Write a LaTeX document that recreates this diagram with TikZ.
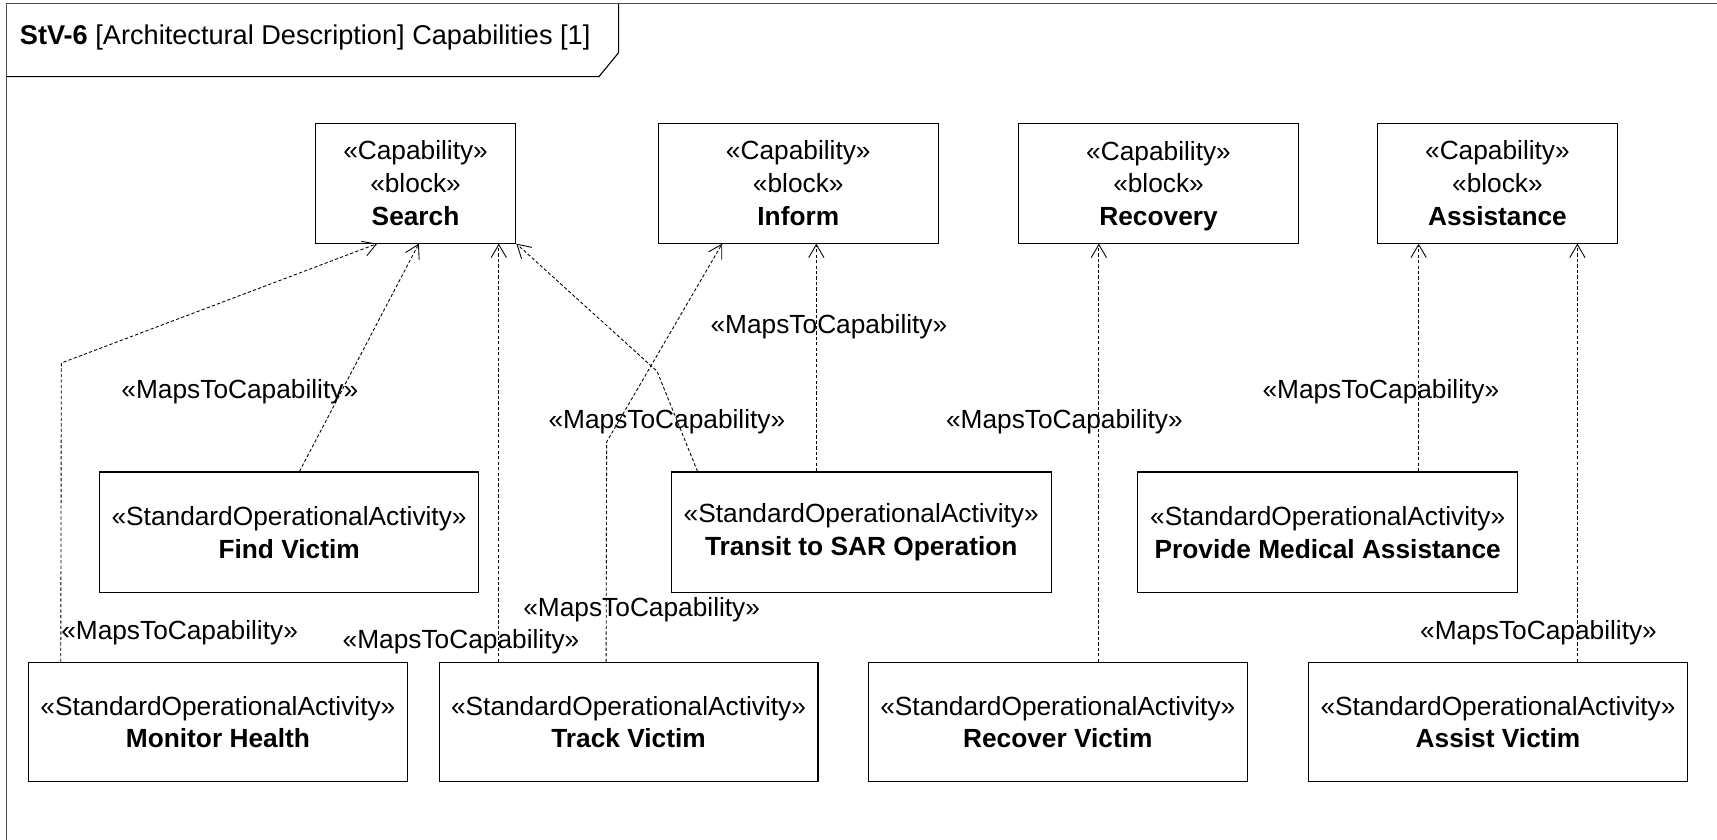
\documentclass[tikz,border=0pt]{standalone}
\usepackage{fontspec}
\setmainfont{Liberation Sans}
\usetikzlibrary{arrows.meta}
\begin{document}
\begin{tikzpicture}[x=1pt,y=-1pt,
  font=\fontsize{24}{30}\selectfont,
  box/.style={draw=black,line width=1pt,rectangle,inner sep=0pt,align=center},
  capbox/.style={box,minimum height=109pt},
  actbox/.style={box,minimum width=346pt,minimum height=110pt},
  dep/.style={draw=black,line width=0.8pt,dash pattern=on 3pt off 2pt,
    -{Straight Barb[length=12pt,width=14pt,line width=0.8pt]}},
  lbl/.style={inner sep=0pt,anchor=center}]
\useasboundingbox (0,0) rectangle (1568,767);

% diagram frame and its name tab
\draw[line width=1pt,draw=black!70] (1575,3.5) -- (6,3.5) -- (6,775);
\draw[line width=1pt] (6,70) -- (547,70) -- (565,48) -- (565,3.5);
\node[anchor=west,inner sep=0pt,font=\fontsize{24.8}{30}\selectfont] (title) at (18,34)
  {\textbf{StV-6} [Architectural Description] Capabilities [1]};

% capabilities (the name line is given no depth so all names sit on one baseline)
\node[capbox,minimum width=183pt] (srch) at (379.5,167.5) {«Capability»\\«block»\\\textbf{Search}};
\node[capbox,minimum width=256pt] (inf) at (729,167.5) {«Capability»\\«block»\\\textbf{Inform}};
\node[capbox,minimum width=256pt] (rec) at (1058,167.5) {«Capability»\\«block»\\\raisebox{0pt}[\height][0pt]{\textbf{Recovery}}};
\node[capbox,minimum width=219pt] (asst) at (1367.5,167.5) {«Capability»\\«block»\\\textbf{Assistance}};

% operational activities
\node[actbox] (find) at (264,486) {«StandardOperationalActivity»\\\textbf{Find Victim}};
\node[actbox,minimum width=347pt] (trn) at (786.5,486) {«StandardOperationalActivity»\\\textbf{Transit to SAR Operation}};
\node[actbox,minimum width=347pt] (prov) at (1212.5,486) {«StandardOperationalActivity»\\\textbf{Provide Medical Assistance}};
\node[actbox,minimum height=109pt] (mon) at (199,659.5) {«StandardOperationalActivity»\\\textbf{Monitor Health}};
\node[actbox,minimum height=109pt] (trk) at (574,659.5) {«StandardOperationalActivity»\\\textbf{Track Victim}};
\node[actbox,minimum height=109pt] (rcv) at (966,659.5) {«StandardOperationalActivity»\\\textbf{Recover Victim}};
\node[actbox,minimum height=109pt] (asv) at (1368,659.5) {«StandardOperationalActivity»\\\textbf{Assist Victim}};

% bend points
\coordinate (kmon) at (56,331.5);
\coordinate (ktrk) at (554,403.6);
\coordinate (ktrn) at (600,339);

% MapsToCapability dependencies
\draw[dep] ([xshift=30pt]mon.north west) -- (kmon) -- ([xshift=57pt]srch.south west);
\draw[dep] ([xshift=183pt]find.north west) -- ([xshift=95pt]srch.south west);
\draw[dep] ([xshift=55pt]trk.north west) -- ([xshift=168pt]srch.south west);
\draw[dep] ([xshift=153pt]trk.north west) -- (ktrk) -- ([xshift=59pt]inf.south west);
\draw[dep] ([xshift=24.5pt]trn.north west) -- (ktrn) -- (srch.south east);
\draw[dep] ([xshift=133pt]trn.north west) -- ([xshift=145pt]inf.south west);
\draw[dep] ([xshift=211pt]rcv.north west) -- ([xshift=74pt]rec.south west);
\draw[dep] ([xshift=257pt]prov.north west) -- ([xshift=38pt]asst.south west);
\draw[dep] ([xshift=246pt]asv.north west) -- ([xshift=183pt]asst.south west);

% dependency labels
\node[lbl] (lmon) at (164,578) {«MapsToCapability»};
\node[lbl] (lfind) at (219,358) {«MapsToCapability»};
\node[lbl] (ltrks) at (421,586) {«MapsToCapability»};
\node[lbl] (ltrki) at (586,557) {«MapsToCapability»};
\node[lbl] (ltrns) at (609,385) {«MapsToCapability»};
\node[lbl] (ltrni) at (757,298) {«MapsToCapability»};
\node[lbl] (lrcv) at (972,385) {«MapsToCapability»};
\node[lbl] (lprov) at (1261,358) {«MapsToCapability»};
\node[lbl] (lasv) at (1405,578) {«MapsToCapability»};
\end{tikzpicture}
\end{document}
